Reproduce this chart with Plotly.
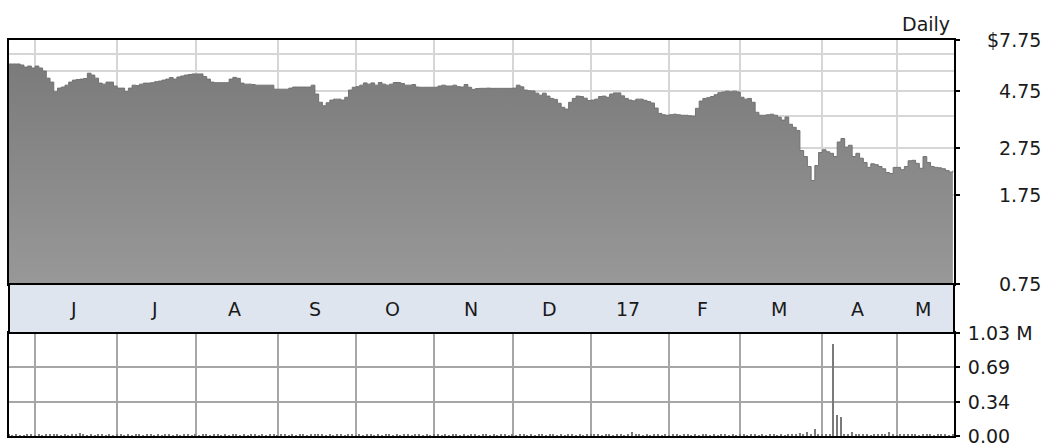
import math
import plotly.graph_objects as go

# Daily closing price, one value per trading day (late May 2016 to late May 2017)
prices = [
    6.16, 6.16, 6.16, 6.10, 5.98, 6.04, 5.93, 6.04, 5.93, 5.76,
    5.38, 5.18, 4.72, 4.89, 4.94, 5.03, 5.18, 5.28, 5.31, 5.33,
    5.36, 5.64, 5.54, 5.38, 5.13, 5.08, 5.18, 5.18, 4.99, 4.89,
    4.89, 4.73, 4.89, 5.03, 5.01, 5.08, 5.13, 5.13, 5.15, 5.20,
    5.23, 5.28, 5.33, 5.41, 5.33, 5.44, 5.49, 5.54, 5.57, 5.60,
    5.60, 5.60, 5.46, 5.33, 5.18, 5.15, 5.15, 5.15, 5.15, 5.33,
    5.42, 5.37, 5.13, 5.08, 5.08, 5.06, 5.03, 5.03, 5.03, 5.03,
    5.03, 4.84, 4.84, 4.84, 4.84, 4.89, 4.94, 4.94, 4.94, 4.94,
    4.94, 5.03, 4.62, 4.27, 4.13, 4.25, 4.36, 4.40, 4.40, 4.36,
    4.48, 4.80, 4.93, 4.96, 5.03, 5.14, 5.08, 5.14, 5.03, 5.16,
    5.08, 5.03, 5.08, 5.16, 5.16, 5.11, 5.03, 5.03, 5.06, 4.94,
    4.93, 4.93, 4.93, 4.93, 4.93, 4.99, 5.03, 4.99, 4.99, 5.03,
    4.96, 4.94, 5.06, 4.93, 4.83, 4.87, 4.88, 4.88, 4.89, 4.88,
    4.88, 4.88, 4.88, 4.88, 4.88, 4.89, 5.03, 4.95, 4.80, 4.77,
    4.76, 4.66, 4.57, 4.66, 4.53, 4.43, 4.39, 4.23, 4.07, 4.00,
    4.27, 4.43, 4.53, 4.51, 4.44, 4.34, 4.36, 4.40, 4.51, 4.53,
    4.48, 4.62, 4.67, 4.67, 4.54, 4.43, 4.36, 4.33, 4.40, 4.40,
    4.35, 4.30, 4.24, 4.04, 3.84, 3.79, 3.77, 3.79, 3.81, 3.79,
    3.77, 3.77, 3.75, 3.74, 4.03, 4.32, 4.43, 4.46, 4.51, 4.59,
    4.68, 4.71, 4.75, 4.72, 4.75, 4.71, 4.48, 4.40, 4.43, 4.27,
    3.88, 3.77, 3.77, 3.79, 3.81, 3.77, 3.70, 3.60, 3.71, 3.46,
    3.36, 3.26, 2.69, 2.54, 2.31, 2.02, 2.33, 2.64, 2.71, 2.66,
    2.62, 2.54, 2.92, 3.02, 2.78, 2.83, 2.54, 2.62, 2.50, 2.40,
    2.29, 2.37, 2.35, 2.31, 2.26, 2.18, 2.16, 2.29, 2.29, 2.24,
    2.31, 2.44, 2.45, 2.38, 2.27, 2.54, 2.40, 2.31, 2.29, 2.28,
    2.26, 2.22, 2.19, 2.22,
]

# Daily volume in millions of shares
volumes = [
    0.012, 0.009, 0.014, 0.010, 0.008, 0.013, 0.011, 0.009, 0.012, 0.010,
    0.014, 0.011, 0.016, 0.012, 0.009, 0.013, 0.010, 0.012, 0.015, 0.030,
    0.012, 0.010, 0.013, 0.009, 0.011, 0.014, 0.010, 0.012, 0.009, 0.011,
    0.013, 0.010, 0.012, 0.009, 0.011, 0.013, 0.010, 0.012, 0.011, 0.009,
    0.012, 0.010, 0.013, 0.011, 0.009, 0.012, 0.010, 0.011, 0.013, 0.010,
    0.012, 0.009, 0.011, 0.013, 0.010, 0.012, 0.011, 0.009, 0.012, 0.010,
    0.013, 0.011, 0.009, 0.012, 0.010, 0.011, 0.013, 0.010, 0.012, 0.009,
    0.011, 0.013, 0.010, 0.012, 0.011, 0.009, 0.012, 0.010, 0.013, 0.011,
    0.009, 0.012, 0.014, 0.011, 0.013, 0.010, 0.012, 0.009, 0.011, 0.013,
    0.010, 0.012, 0.011, 0.009, 0.012, 0.010, 0.013, 0.011, 0.009, 0.012,
    0.010, 0.011, 0.013, 0.010, 0.012, 0.009, 0.011, 0.013, 0.010, 0.012,
    0.011, 0.009, 0.012, 0.010, 0.013, 0.011, 0.009, 0.012, 0.010, 0.011,
    0.013, 0.010, 0.012, 0.009, 0.011, 0.013, 0.010, 0.012, 0.011, 0.009,
    0.012, 0.010, 0.013, 0.011, 0.009, 0.012, 0.010, 0.011, 0.013, 0.010,
    0.012, 0.009, 0.011, 0.013, 0.010, 0.012, 0.011, 0.009, 0.012, 0.010,
    0.013, 0.011, 0.009, 0.012, 0.010, 0.011, 0.013, 0.022, 0.012, 0.009,
    0.011, 0.013, 0.010, 0.012, 0.011, 0.009, 0.012, 0.042, 0.013, 0.011,
    0.009, 0.012, 0.010, 0.011, 0.013, 0.010, 0.012, 0.009, 0.011, 0.013,
    0.010, 0.012, 0.011, 0.009, 0.012, 0.010, 0.013, 0.011, 0.009, 0.012,
    0.010, 0.011, 0.013, 0.010, 0.012, 0.009, 0.011, 0.013, 0.010, 0.012,
    0.011, 0.009, 0.012, 0.010, 0.013, 0.011, 0.009, 0.012, 0.010, 0.011,
    0.022, 0.013, 0.030, 0.012, 0.040, 0.014, 0.075, 0.016, 0.013, 0.015,
    0.012, 0.920, 0.210, 0.190, 0.018, 0.014, 0.045, 0.013, 0.011, 0.014,
    0.012, 0.010, 0.013, 0.011, 0.012, 0.014, 0.040, 0.012, 0.010, 0.013,
    0.011, 0.025, 0.012, 0.020, 0.010, 0.013, 0.011, 0.012, 0.010, 0.013,
    0.011, 0.012, 0.010, 0.012,
]

# First trading day of each month (index into the daily series) and labels
month_starts = [7, 29, 50, 72, 93, 114, 135, 156, 177, 196, 218, 238]
month_labels = ["J", "J", "A", "S", "O", "N", "D", "17", "F", "M", "A", "M"]

price_ticks = [7.75, 4.75, 2.75, 1.75, 0.75]
price_tick_text = ["$7.75", "4.75", "2.75", "1.75", "0.75"]
price_minor_grid = [6.75, 5.75, 3.75]

vol_ticks = [1.03, 0.69, 0.34, 0.00]
vol_tick_text = ["1.03 M", "0.69", "0.34", "0.00"]

FONT = "DejaVu Sans"
FSIZE = 19
TXT = "#1a1a1a"
W, H = 1061, 447
M_L, M_R, M_T, M_B = 9, 107, 40, 11

days = list(range(len(prices)))
x_end = 253.3
x_range = [0, x_end]


def frac(py):
    """Paper fraction for a pixel row of the figure."""
    return (H - M_B - py) / (H - M_B - M_T)


price_bottom = frac(284)
vol_top = frac(333)

fig = go.Figure()

fig.add_trace(go.Scatter(
    x=days, y=prices, mode="lines",
    line=dict(color="#727272", width=1, shape="hv"),
    fill="tozeroy",
    fillgradient=dict(type="vertical",
                      colorscale=[[0, "#989898"], [1, "#7b7b7b"]],
                      start=min(price_ticks), stop=max(prices)),
    xaxis="x", yaxis="y", hoverinfo="skip", showlegend=False,
))

fig.add_trace(go.Bar(
    x=days, y=volumes, width=0.4,
    marker=dict(color="#7a7a7a", line=dict(width=0)),
    xaxis="x2", yaxis="y2", hoverinfo="skip", showlegend=False,
))

frame = dict(showline=True, mirror=True, linecolor="#000000", linewidth=2,
             automargin=False)

fig.update_layout(
    width=W, height=H,
    margin=dict(l=M_L, r=M_R, t=M_T, b=M_B, autoexpand=False),
    paper_bgcolor="white", plot_bgcolor="white",
    font=dict(family=FONT, size=FSIZE, color=TXT),
    xaxis=dict(domain=[0, 1], anchor="y", range=x_range,
               tickmode="array", tickvals=month_starts, showticklabels=False,
               ticks="", showgrid=True, gridcolor="#d6d6d6", gridwidth=2,
               zeroline=False, **frame),
    yaxis=dict(domain=[price_bottom, 1], anchor="x", type="log",
               range=[math.log10(min(price_ticks)), math.log10(max(price_ticks))],
               side="right", tickmode="array", tickvals=price_ticks,
               showticklabels=False, ticks="outside", ticklen=4,
               tickcolor="#000000", tickwidth=2,
               showgrid=True, gridcolor="#d6d6d6", gridwidth=2,
               minor=dict(tickmode="array", tickvals=price_minor_grid,
                          showgrid=True, gridcolor="#d6d6d6", gridwidth=2,
                          ticks=""),
               zeroline=False, **frame),
    xaxis2=dict(domain=[0, 1], anchor="y2", range=x_range,
                tickmode="array", tickvals=month_starts, showticklabels=False,
                ticks="", showgrid=True, gridcolor="#a6a6a6", gridwidth=1.5,
                zeroline=False, **frame),
    yaxis2=dict(domain=[0, vol_top], anchor="x2", range=[0, max(vol_ticks)],
                side="right", tickmode="array", tickvals=vol_ticks,
                ticktext=vol_tick_text, ticks="outside", ticklen=4,
                tickcolor="#000000", tickwidth=2, ticklabelstandoff=4,
                ticklabeloverflow="allow",
                tickfont=dict(family=FONT, size=FSIZE, color=TXT),
                showgrid=True, gridcolor="#a6a6a6", gridwidth=1.5,
                zeroline=False, **frame),
    bargap=0,
)

# Month band between the two panels
fig.add_shape(type="rect", xref="paper", yref="paper",
              x0=0, x1=1, y0=vol_top, y1=price_bottom,
              fillcolor="#dfe5ef", line=dict(color="#000000", width=2),
              layer="above")

bounds = month_starts[1:] + [x_end]
for start, end, label in zip(month_starts, bounds, month_labels):
    fig.add_annotation(x=(start + end) / 2 - 0.6, xref="x",
                       y=(vol_top + price_bottom) / 2, yref="paper",
                       text=label, showarrow=False, xanchor="center",
                       yanchor="middle",
                       font=dict(family=FONT, size=FSIZE, color=TXT))

# Price axis labels, right aligned beside the panel
for v, t in zip(price_ticks, price_tick_text):
    fig.add_annotation(x=1.094, xref="paper", y=math.log10(v), yref="y",
                       text=t, showarrow=False, xanchor="right",
                       yanchor="middle",
                       font=dict(family=FONT, size=FSIZE, color=TXT))

fig.add_annotation(x=0.998, xref="paper", y=1, yref="paper", yshift=16,
                   text="Daily", showarrow=False, xanchor="right",
                   yanchor="middle",
                   font=dict(family=FONT, size=FSIZE, color=TXT))

fig.write_html("out.html")
